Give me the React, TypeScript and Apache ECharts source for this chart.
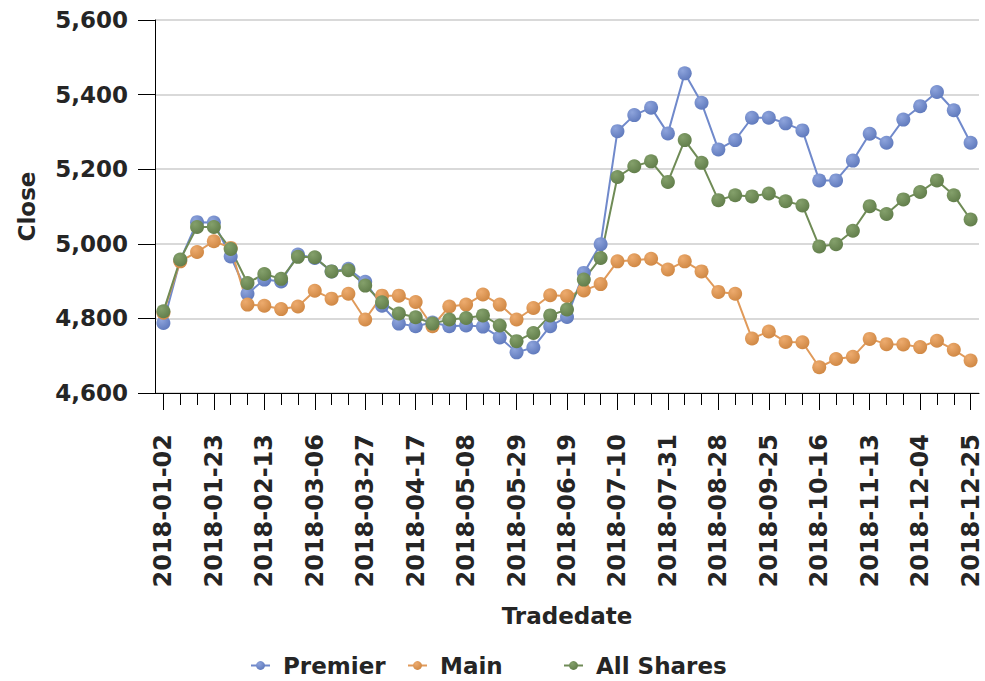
import React, { useEffect, useRef } from "react";
import * as echarts from "echarts";

const dates = [
  "2018-01-02", "2018-01-09", "2018-01-16", "2018-01-23", "2018-01-30", "2018-02-06", "2018-02-13",
  "2018-02-20", "2018-02-27", "2018-03-06", "2018-03-13", "2018-03-20", "2018-03-27", "2018-04-03",
  "2018-04-10", "2018-04-17", "2018-04-24", "2018-05-01", "2018-05-08", "2018-05-15", "2018-05-22",
  "2018-05-29", "2018-06-05", "2018-06-12", "2018-06-19", "2018-06-26", "2018-07-03", "2018-07-10",
  "2018-07-17", "2018-07-24", "2018-07-31", "2018-08-07", "2018-08-14", "2018-08-28", "2018-09-04",
  "2018-09-18", "2018-09-25", "2018-10-02", "2018-10-09", "2018-10-16", "2018-10-23", "2018-11-06",
  "2018-11-13", "2018-11-20", "2018-11-27", "2018-12-04", "2018-12-11", "2018-12-18", "2018-12-25",
];

const premier = [
  4788, 4956, 5058, 5057, 4966, 4866, 4904, 4899, 4971, 4962, 4926, 4933, 4898, 4834, 4786, 4779,
  4789, 4779, 4781, 4778, 4749, 4709, 4722, 4779, 4804, 4922, 4999, 5302, 5345, 5365, 5296, 5457,
  5378, 5253, 5278, 5338, 5338, 5323, 5304, 5170, 5170, 5223, 5295, 5271, 5333, 5369, 5407, 5358, 5271,
];

const main = [
  4815, 4953, 4978, 5007, 4989, 4837, 4834, 4825, 4832, 4874, 4853, 4866, 4797, 4861, 4861, 4844,
  4779, 4832, 4837, 4864, 4837, 4797, 4828, 4862, 4860, 4875, 4892, 4953, 4956, 4960, 4931, 4953,
  4926, 4871, 4866, 4746, 4765, 4737, 4736, 4669, 4691, 4697, 4745, 4731, 4730, 4723, 4740, 4716, 4687,
];

const allShares = [
  4819, 4958, 5045, 5045, 4986, 4895, 4919, 4906, 4965, 4964, 4926, 4929, 4888, 4843, 4813, 4803,
  4786, 4797, 4801, 4808, 4781, 4739, 4761, 4808, 4824, 4904, 4962, 5179, 5208, 5221, 5166, 5278,
  5217, 5117, 5130, 5127, 5135, 5114, 5103, 4993, 4999, 5035, 5101, 5080, 5119, 5139, 5170, 5130, 5065,
];

const seriesNames = ["Premier", "Main", "All Shares"];
const yTicks = { min: 4600, max: 5600, interval: 200 };

const FONT = "DejaVu Sans";
const TXT = "#252525";

function grad(light: string, dark: string) {
  return new echarts.graphic.RadialGradient(0.35, 0.3, 0.75, [
    { offset: 0, color: light },
    { offset: 1, color: dark },
  ]);
}

export default function App() {
  const ref = useRef<HTMLDivElement>(null);
  useEffect(() => {
    if (!ref.current) return;
    const chart = echarts.init(ref.current, null, { renderer: "svg" });
    const styles = [
      { line: "#7089CB", light: "#8EA4DC", dark: "#5F79BC" },
      { line: "#E09A5A", light: "#EDAB6E", dark: "#CF8743" },
      { line: "#6F8B56", light: "#84A06B", dark: "#617D4A" },
    ];
    const datasets = [premier, main, allShares];
    const legendLefts = [245, 402, 558];
    const option: any = {
      animation: false,
      backgroundColor: "#ffffff",
      grid: { left: 155, right: 6, top: 20, bottom: 288, containLabel: false },
      legend: seriesNames.map((n, i) => ({
        data: [n],
        left: legendLefts[i],
        top: 649,
        itemWidth: 19,
        itemHeight: 11,
        textStyle: {
          fontFamily: FONT,
          fontWeight: "bold",
          fontSize: 23,
          color: TXT,
          padding: [0, 0, 0, 8],
        },
      })),
      xAxis: [
        {
          type: "category",
          data: dates,
          boundaryGap: true,
          axisLine: { show: true, lineStyle: { color: "#000", width: 1 } },
          axisTick: { show: true, interval: 0, length: 12, alignWithLabel: true, lineStyle: { color: "#000", width: 1 } },
          axisLabel: { show: false },
          splitLine: { show: false },
        },
        {
          type: "category",
          data: dates,
          boundaryGap: true,
          position: "bottom",
          axisLine: { show: false },
          axisTick: { show: true, interval: 2, length: 17, alignWithLabel: true, lineStyle: { color: "#000", width: 1 } },
          axisLabel: {
            interval: 2,
            rotate: 90,
            margin: 41,
            fontFamily: FONT,
            fontWeight: "bold",
            fontSize: 24,
            color: TXT,
          },
          name: "Tradedate",
          nameLocation: "middle",
          nameGap: 211,
          nameTextStyle: { fontFamily: FONT, fontWeight: "bold", fontSize: 23, color: TXT, verticalAlign: "top" },
          splitLine: { show: false },
        },
      ],
      yAxis: {
        type: "value",
        min: yTicks.min,
        max: yTicks.max,
        interval: yTicks.interval,
        name: "Close",
        nameLocation: "middle",
        nameGap: 117,
        nameTextStyle: { fontFamily: FONT, fontWeight: "bold", fontSize: 23, color: TXT },
        axisLine: { show: true, lineStyle: { color: "#000", width: 1 } },
        axisTick: { show: true, length: 17, lineStyle: { color: "#000", width: 1 } },
        axisLabel: {
          margin: 27,
          fontFamily: FONT,
          fontWeight: "bold",
          fontSize: 23,
          color: TXT,
          formatter: (v: number) => v.toLocaleString("en-US"),
        },
        splitLine: { show: true, lineStyle: { color: "#d9d9d9", width: 2 } },
      },
      series: seriesNames.map((n, i) => ({
        name: n,
        type: "line",
        data: datasets[i],
        symbol: "circle",
        symbolSize: 14,
        showSymbol: true,
        showAllSymbol: true,
        lineStyle: { color: styles[i].line, width: 2 },
        itemStyle: { color: grad(styles[i].light, styles[i].dark), borderWidth: 0 },
        emphasis: { disabled: true },
      })),
    };
    chart.setOption(option);
    return () => chart.dispose();
  }, []);
  return (
    <div
      ref={ref}
      style={{ position: "fixed", left: 0, top: 0, width: 985, height: 681, background: "#fff" }}
    />
  );
}
